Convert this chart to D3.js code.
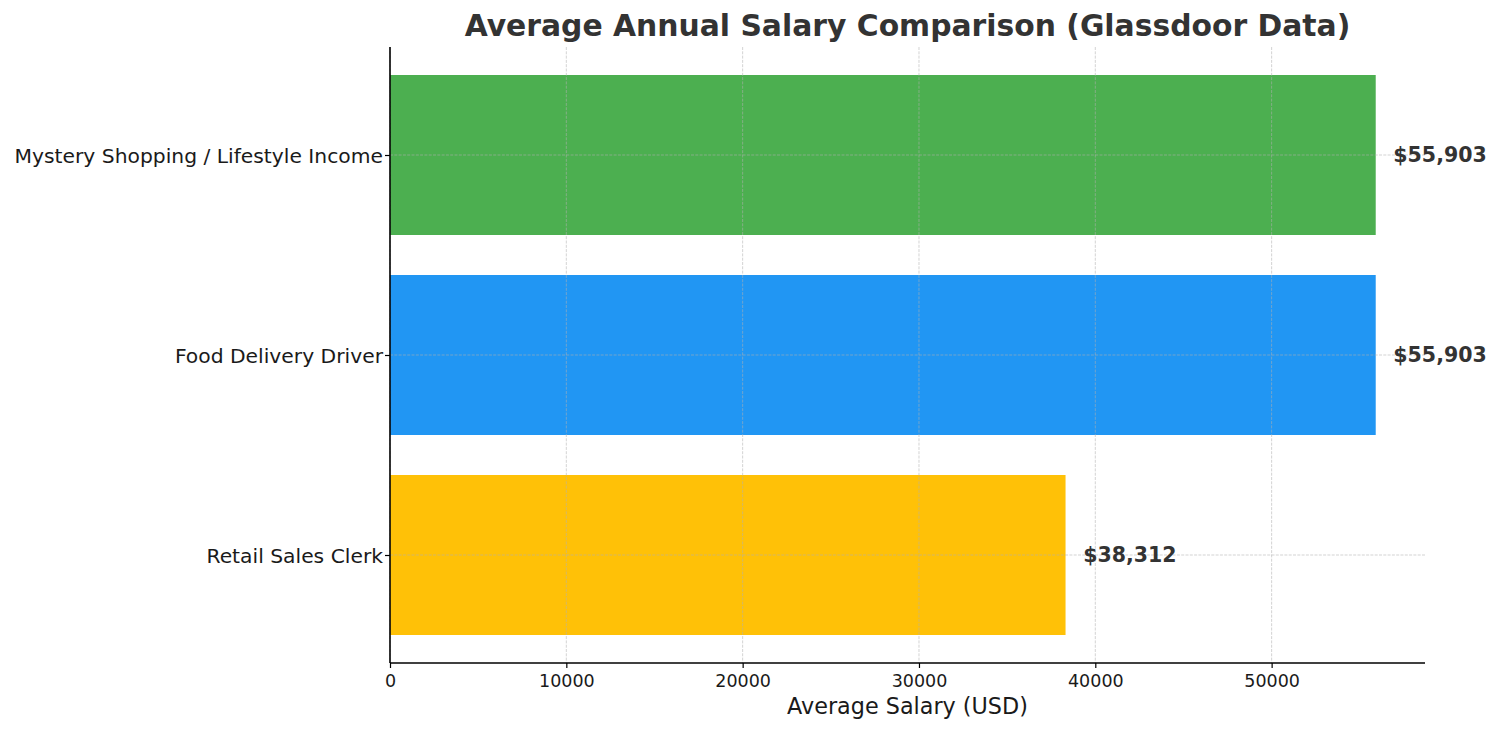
<!DOCTYPE html>
<html><head><meta charset="utf-8">
<script src="https://cdn.jsdelivr.net/npm/d3@7"></script>
<style>body{margin:0;background:#fff}</style>
</head><body><svg id="c" width="1500" height="732"></svg>
<script>
const categories = ["Retail Sales Clerk", "Food Delivery Driver", "Mystery Shopping / Lifestyle Income"];
const salaries = [38312, 55903, 55903];
const colors = ["#FFC107", "#2196F3", "#4CAF50"];
const xTicks = [0, 10000, 20000, 30000, 40000, 50000];

const svg = d3.select("#c");
const L = 390, R = 1425, T = 47, B = 663;
const xMax = d3.max(salaries) * 1.05;
const x = d3.scaleLinear().domain([0, xMax]).range([L, R]);
const y = d3.scaleLinear().domain([-0.54, categories.length - 1 + 0.54]).range([B, T]);
const barH = y(0) - y(0.8);
const font = "DejaVu Sans, sans-serif";

// bars
svg.selectAll("rect.bar").data(salaries).join("rect")
  .attr("x", x(0)).attr("y", (d, i) => y(i) - barH / 2)
  .attr("width", d => x(d) - x(0)).attr("height", barH)
  .attr("fill", (d, i) => colors[i]);

// grid (on top of bars)
const grid = svg.append("g").attr("stroke", "#b0b0b0").attr("stroke-opacity", 0.7)
  .attr("stroke-width", 0.8).attr("stroke-dasharray", "3,1.3");
grid.selectAll("line.v").data(xTicks).join("line")
  .attr("x1", d => x(d)).attr("x2", d => x(d)).attr("y1", T).attr("y2", B);
grid.selectAll("line.h").data(categories).join("line")
  .attr("x1", L).attr("x2", R).attr("y1", (d, i) => y(i)).attr("y2", (d, i) => y(i));

// axes
const xAxis = svg.append("g").attr("transform", `translate(0,${B})`)
  .call(d3.axisBottom(x).tickValues(xTicks).tickFormat(d3.format("d")).tickSize(5).tickPadding(7));
const yAxis = svg.append("g").attr("transform", `translate(${L},0)`)
  .call(d3.axisLeft(y).tickValues(d3.range(categories.length)).tickFormat(i => categories[i]).tickSize(5).tickPadding(2));
xAxis.select(".domain").attr("d", `M${L},0H${R}`);
yAxis.select(".domain").attr("d", `M0,${T}V${B}`);
[xAxis, yAxis].forEach(a => {
  a.select(".domain").attr("stroke", "#000").attr("stroke-width", 1.6);
  a.selectAll(".tick line").attr("stroke", "#000").attr("stroke-width", 1.2);
  a.selectAll(".tick text").attr("fill", "#1a1a1a").attr("font-family", font);
});
xAxis.selectAll(".tick text").attr("font-size", 17.5);
yAxis.selectAll(".tick text").attr("font-size", 20.3).attr("dy", "0.36em");

// value labels
svg.selectAll("text.val").data(salaries).join("text")
  .attr("x", d => x(d + 1000)).attr("y", (d, i) => y(i)).attr("dy", "0.36em")
  .attr("font-family", font).attr("font-weight", "bold").attr("font-size", 20.5)
  .attr("fill", "#333").text(d => "$" + d3.format(",")(d));

// title and axis label
svg.append("text").attr("x", (L + R) / 2).attr("y", 36).attr("text-anchor", "middle")
  .attr("font-family", font).attr("font-weight", "bold").attr("font-size", 29.8)
  .attr("fill", "#333").text("Average Annual Salary Comparison (Glassdoor Data)");
svg.append("text").attr("x", (L + R) / 2).attr("y", 714).attr("text-anchor", "middle")
  .attr("font-family", font).attr("font-size", 22.3).attr("fill", "#1a1a1a")
  .text("Average Salary (USD)");
</script></body></html>
